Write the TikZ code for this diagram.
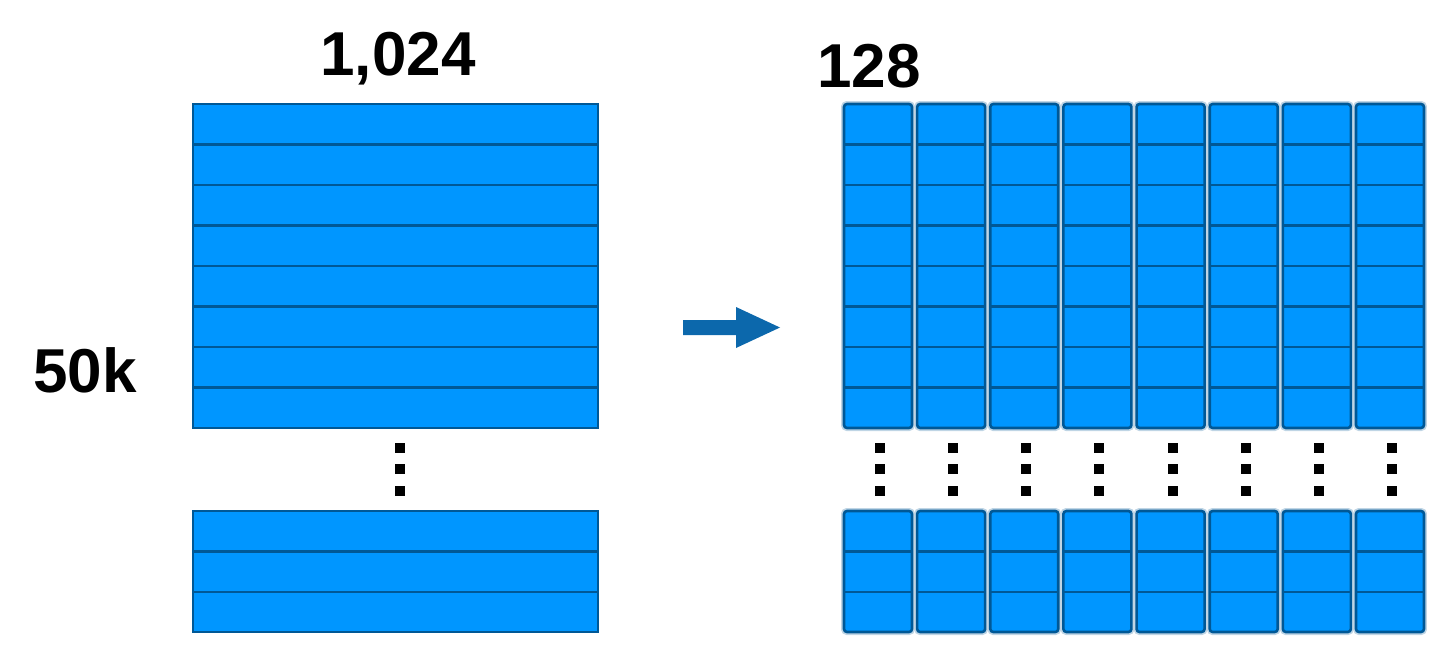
\documentclass[tikz,border=0pt]{standalone}
\usepackage{fontspec}
\setmainfont{Liberation Sans}
\usetikzlibrary{calc}
\definecolor{cellblue}{RGB}{0,150,255}
\definecolor{lineblue}{RGB}{0,88,150}
\definecolor{arrowblue}{RGB}{12,104,172}
\tikzset{
	cell/.style={fill=cellblue, draw=lineblue, line width=1.3pt},
	rowline/.style={draw=lineblue, line width=1.3pt},
	halo/.style={draw=lineblue!25, line width=3pt},
	sizelabel/.style={font=\bfseries\fontsize{31}{31}\selectfont, inner sep=0pt, anchor=base},
}
\def\dotcol(#1){\foreach \dy in {448,469,491} \fill ($(#1,\dy)+(-5,-5)$) rectangle ($(#1,\dy)+(5,5)$);}

\begin{document}
\begin{tikzpicture}[x=0.5pt, y=-0.5pt]
		\useasboundingbox (0,0) rectangle (1440,653);
		%%%%% LABELS %%%%%
		\node[sizelabel] (cols) at (398,75) {1,024};
		\node[sizelabel] (chunk) at (869,87) {128};
		\node[sizelabel] (rows) at (85,392) {50k};
		
		%%%%% LEFT MATRIX %%%%%
		\draw[cell] (193,104) rectangle (598,428);
		\foreach \r in {1,...,7}
			\draw[rowline] (193,{104+40.5*\r}) -- (598,{104+40.5*\r});
		\dotcol(400)
		\draw[cell] (193,511) rectangle (598,632);
		\foreach \r in {1,2}
			\draw[rowline] (193,{511+40.5*\r}) -- (598,{511+40.5*\r});
		
		%%%%% ARROW %%%%%
		\fill[arrowblue] (683,320) -- (736,320) -- (736,307) -- (780,327.5)
			-- (736,348) -- (736,335) -- (683,335) -- cycle;
		
		%%%%% RIGHT COLUMNS %%%%%
		\foreach \i [evaluate=\i as \x using 844+73.14*\i] in {0,...,7} {
			\draw[halo, rounded corners=1.5pt] (\x,104) rectangle (\x+68,428);
			\draw[cell, rounded corners=1.5pt] (\x,104) rectangle (\x+68,428);
			\foreach \r in {1,...,7}
				\draw[rowline] (\x,{104+40.5*\r}) -- (\x+68,{104+40.5*\r});
			\dotcol(\x+36)
			\draw[halo, rounded corners=1.5pt] (\x,511) rectangle (\x+68,632);
			\draw[cell, rounded corners=1.5pt] (\x,511) rectangle (\x+68,632);
			\foreach \r in {1,2}
				\draw[rowline] (\x,{511+40.5*\r}) -- (\x+68,{511+40.5*\r});
		}
\end{tikzpicture}
\end{document}
